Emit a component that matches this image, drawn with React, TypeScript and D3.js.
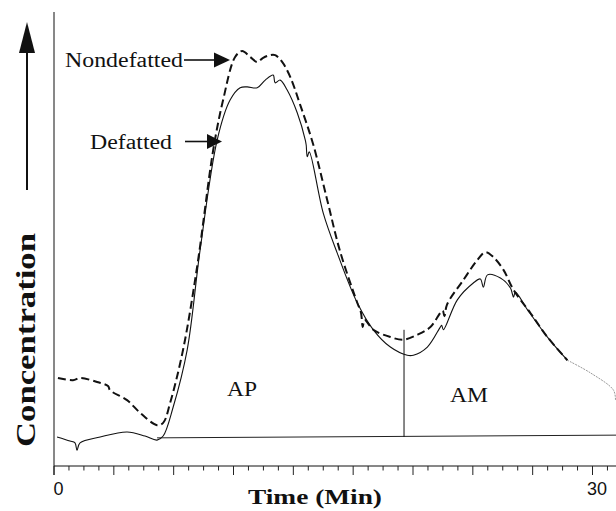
import { useEffect, useRef } from 'react';
import * as d3 from 'd3';

// time (min) / concentration (arbitrary units, 0-100 over the axis height)
const NONDEFATTED: [number, number][] = [
  [0.22, 19.4], [1.06, 18.9], [1.45, 19.4], [2.4, 18.5], [3.01, 17.6], [3.12, 16.7],
  [4.07, 14.5], [4.8, 11.7], [5.74, 9.0], [6.08, 9.5], [6.47, 13.9], [7.19, 25.6],
  [7.97, 43.8], [8.87, 69.6], [9.42, 80.6], [10.09, 90.1], [10.48, 91.4], [10.93, 90.1],
  [11.32, 89.0], [11.65, 89.9], [12.04, 90.5], [12.32, 90.5], [12.71, 89.0], [13.16, 85.7],
  [13.72, 79.5], [14.45, 70.7], [15.22, 58.6], [15.95, 47.1], [16.9, 35.9], [17.1, 33.8],
  [17.2, 30.6], [17.3, 32.2], [17.79, 30.0], [18.74, 28.4], [19.46, 27.8], [20.24, 28.9],
  [20.97, 30.6], [21.65, 34.2], [21.75, 33.0], [21.9, 35.6], [22.81, 41.0], [23.59, 45.4],
  [24.03, 47.1], [24.48, 46.0], [25.04, 43.2], [25.6, 38.8], [26.54, 33.7], [27.49, 28.4],
  [28.6, 23.3],
];

const DEFATTED: [number, number][] = [
  [0.17, 6.4], [0.89, 5.5], [1.17, 5.1], [1.28, 3.5], [1.45, 5.1], [2.57, 6.4],
  [4.07, 7.5], [5.07, 6.6], [5.74, 5.7], [6.08, 6.6], [6.64, 13.0], [7.42, 25.6],
  [8.14, 47.6], [9.09, 71.8], [9.81, 80.6], [10.37, 83.3], [10.76, 83.5], [11.32, 83.3],
  [11.77, 85.0], [12.21, 86.1], [12.32, 84.4], [12.6, 85.0], [12.99, 82.8], [13.55, 77.8],
  [14.0, 71.8], [14.05, 70.7], [14.11, 68.1], [14.22, 69.2], [15.0, 55.7], [15.78, 46.9],
  [16.9, 35.9], [17.79, 30.0], [18.74, 26.2], [19.68, 24.4], [20.02, 24.4], [20.8, 26.2],
  [21.52, 30.6], [21.6, 31.0], [21.69, 30.0], [22.47, 36.6], [23.36, 40.3], [23.75, 41.2],
  [23.92, 39.4], [24.15, 42.1], [24.87, 41.4], [25.43, 39.2], [25.6, 37.2], [25.7, 38.3],
  [26.38, 34.4], [27.49, 28.4], [28.6, 23.3],
];

const DEFATTED_TAIL: [number, number][] = [
  [28.6, 23.3], [29.89, 20.5], [31.17, 16.7], [31.28, 14.5],
];

const BASELINE: [number, number][] = [[5.74, 6.2], [31.35, 6.8]];
const DROP_TIME = 19.5;
const DROP_TOP = 30.0;

const X_TICK_LABELS = [
  { t: 0, label: '0' },
  { t: 30, label: '30' },
];

const W = 616;
const H = 511;

export default function App() {
  const svgRef = useRef<SVGSVGElement | null>(null);

  useEffect(() => {
    const svg = d3.select(svgRef.current);
    svg.selectAll('*').remove();

    const x = d3.scaleLinear().domain([0, 30]).range([54, 592.5]);
    const y = d3.scaleLinear().domain([0, 100]).range([466, 12]);
    const tMax = x.invert(W);

    const line = d3.line<[number, number]>()
      .x(d => x(d[0])).y(d => y(d[1]))
      .curve(d3.curveCatmullRom.alpha(0.5));

    // axes
    svg.append('line').attr('x1', 54).attr('x2', 54).attr('y1', 12).attr('y2', 475)
      .attr('stroke', '#111').attr('stroke-width', 1);
    svg.append('line').attr('x1', 54).attr('x2', W).attr('y1', y(0)).attr('y2', y(0))
      .attr('stroke', '#111').attr('stroke-width', 1);

    const step = 10 / 3;
    const minor = d3.range(0, tMax, step / 4);
    svg.append('g').selectAll('line').data(minor).join('line')
      .attr('x1', d => x(d)).attr('x2', d => x(d))
      .attr('y1', y(0))
      .attr('y2', (d, i) => (i % 4 === 0 ? y(0) + 9 : y(0) + 4.5))
      .attr('stroke', '#222').attr('stroke-width', 1);

    svg.append('g').selectAll('text').data(X_TICK_LABELS).join('text')
      .attr('x', d => x(d.t) + 4.5).attr('y', 495)
      .attr('text-anchor', 'middle')
      .attr('font-family', '"Liberation Sans", Arial, sans-serif')
      .attr('font-size', 18).attr('fill', '#111')
      .text(d => d.label);

    // integration baseline and drop line
    svg.append('path').attr('d', d3.line<[number, number]>().x(d => x(d[0])).y(d => y(d[1]))(BASELINE))
      .attr('fill', 'none').attr('stroke', '#222').attr('stroke-width', 1);
    svg.append('line')
      .attr('x1', x(DROP_TIME)).attr('x2', x(DROP_TIME))
      .attr('y1', y(DROP_TOP)).attr('y2', y(6.4))
      .attr('stroke', '#111').attr('stroke-width', 1);

    // curves
    svg.append('path').attr('d', line(DEFATTED))
      .attr('fill', 'none').attr('stroke', '#111').attr('stroke-width', 1.1);
    svg.append('path').attr('d', line(DEFATTED_TAIL))
      .attr('fill', 'none').attr('stroke', '#999').attr('stroke-width', 1)
      .attr('stroke-dasharray', '2 1');
    svg.append('path').attr('d', line(NONDEFATTED))
      .attr('fill', 'none').attr('stroke', '#111').attr('stroke-width', 2)
      .attr('stroke-dasharray', '8 4');

    // labels
    const serif = '"Liberation Serif", "Times New Roman", serif';
    const label = (s: string, lx: number, ly: number, size: number, len: number, bold = false) =>
      svg.append('text').attr('x', lx).attr('y', ly)
        .attr('font-family', serif).attr('font-size', size)
        .attr('font-weight', bold ? 700 : 400)
        .attr('textLength', len).attr('lengthAdjust', 'spacingAndGlyphs')
        .attr('fill', '#111').text(s);

    label('Nondefatted', 65, 66.5, 20, 118);
    label('Defatted', 90, 149, 20, 82);
    label('AP', 227, 396, 20, 30);
    label('AM', 450, 402, 20, 38);
    label('Time (Min)', 248, 504, 21, 134, true);

    svg.append('text')
      .attr('transform', 'translate(35,340) rotate(-90)')
      .attr('text-anchor', 'middle')
      .attr('font-family', serif).attr('font-size', 28).attr('font-weight', 700)
      .attr('textLength', 214).attr('lengthAdjust', 'spacingAndGlyphs')
      .attr('fill', '#111').text('Concentration');

    // pointer arrows
    const arrow = (x0: number, x1: number, ay: number, head: number) => {
      svg.append('line').attr('x1', x0).attr('x2', x1 - head + 1).attr('y1', ay).attr('y2', ay)
        .attr('stroke', '#111').attr('stroke-width', 1.6);
      svg.append('path')
        .attr('d', `M${x1},${ay}L${x1 - head},${ay - 7.5}L${x1 - head},${ay + 7.5}Z`)
        .attr('fill', '#111');
    };
    arrow(184, 230, 60, 16);
    arrow(185, 222, 141.5, 15);

    // big up arrow
    svg.append('line').attr('x1', 27).attr('x2', 27).attr('y1', 190).attr('y2', 50)
      .attr('stroke', '#111').attr('stroke-width', 2);
    svg.append('path').attr('d', 'M27,22L19,53L35,53Z').attr('fill', '#111');
  }, []);

  return (
    <svg
      ref={svgRef}
      width={W}
      height={H}
      style={{ position: 'absolute', left: 0, top: 0, background: '#fff' }}
    />
  );
}
